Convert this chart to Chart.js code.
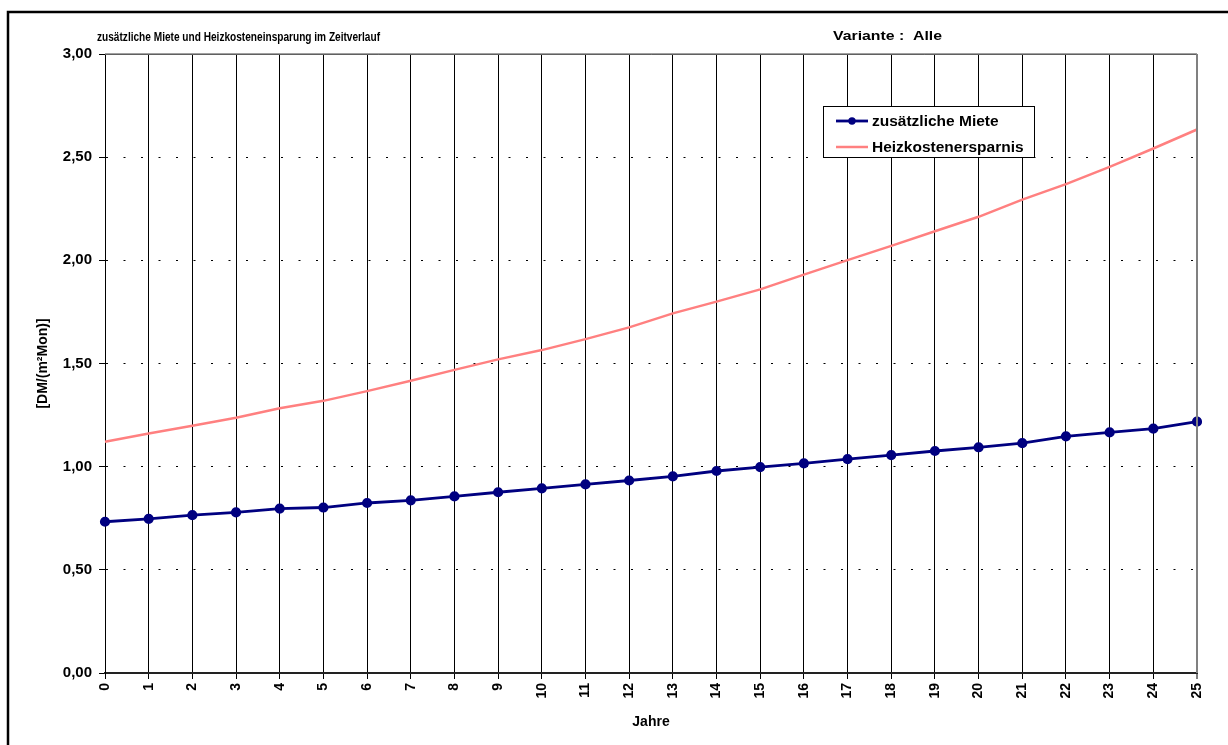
<!DOCTYPE html>
<html>
<head>
<meta charset="utf-8">
<script src="https://cdn.jsdelivr.net/npm/chart.js@4.4.1/dist/chart.umd.min.js"></script>
<style>
  html, body { margin: 0; padding: 0; background: #fff; }
  #wrap { width: 1228px; height: 745px; position: relative; }
  canvas { display: block; }
</style>
</head>
<body>
<div id="wrap"><canvas id="chart" width="1228" height="745"></canvas></div>
<script>
// Jahre 0..25
const years = ['0','1','2','3','4','5','6','7','8','9','10','11','12','13','14','15','16','17','18','19','20','21','22','23','24','25'];

// zusätzliche Miete [DM/(m²Mon)]
const zusaetzlicheMiete = [0.733, 0.747, 0.765, 0.778, 0.797, 0.802, 0.824, 0.837, 0.856, 0.876,
                           0.895, 0.914, 0.933, 0.953, 0.979, 0.998, 1.016, 1.037, 1.056, 1.076,
                           1.094, 1.114, 1.147, 1.166, 1.184, 1.218];

// Heizkostenersparnis [DM/(m²Mon)]
const heizkostenersparnis = [1.121, 1.161, 1.198, 1.237, 1.283, 1.319, 1.366, 1.416, 1.469, 1.520,
                             1.565, 1.618, 1.675, 1.743, 1.800, 1.859, 1.931, 2.001, 2.070, 2.141,
                             2.211, 2.294, 2.369, 2.453, 2.542, 2.634];

// y-axis tick labels (0,00 .. 3,00 in steps of 0,50)
const yTickLabels = ['0,00', '0,50', '1,00', '1,50', '2,00', '2,50', '3,00'];

const chartTitle = 'zusätzliche Miete und Heizkosteneinsparung im Zeitverlauf';
const variantText = 'Variante :  Alle';
const yAxisTitle = '[DM/(m²Mon)]';
const xAxisTitle = 'Jahre';

const FONT = '"Liberation Sans", Arial, sans-serif';
const NAVY = '#000080';
const SALMON = '#FF8080';

// draws a single line of text scaled horizontally to a given width
function fitText(ctx, text, x, y, width) {
  const w = ctx.measureText(text).width;
  ctx.save();
  ctx.translate(x, y);
  ctx.scale(width / w, 1);
  ctx.fillText(text, 0, 0);
  ctx.restore();
}

// Outer frame, plot frame, headings and the legend box
const decorations = {
  id: 'decorations',
  beforeDraw(chart) {
    const ctx = chart.ctx;
    ctx.save();
    ctx.fillStyle = '#fff';
    ctx.fillRect(0, 0, chart.width, chart.height);
    ctx.restore();
  },
  afterDraw(chart) {
    const ctx = chart.ctx;
    const a = chart.chartArea;
    ctx.save();

    // outer page frame
    ctx.strokeStyle = '#000';
    ctx.lineWidth = 2.5;
    ctx.beginPath();
    ctx.moveTo(8, chart.height + 5);
    ctx.lineTo(8, 12);
    ctx.lineTo(chart.width + 5, 12);
    ctx.stroke();

    // grey plot frame (top and right)
    ctx.strokeStyle = '#808080';
    ctx.lineWidth = 1.5;
    ctx.beginPath();
    ctx.moveTo(a.left, a.top);
    ctx.lineTo(a.right, a.top);
    ctx.stroke();
    ctx.lineWidth = 2;
    ctx.beginPath();
    ctx.moveTo(a.right, a.top);
    ctx.lineTo(a.right, a.bottom);
    ctx.stroke();

    // headings
    ctx.fillStyle = '#000';
    ctx.textBaseline = 'middle';
    ctx.textAlign = 'left';
    ctx.font = 'bold 12.5px ' + FONT;
    fitText(ctx, chartTitle, 97, 38, 283);
    ctx.font = 'bold 13px ' + FONT;
    fitText(ctx, variantText, 833, 36, 109);

    // legend
    const lx = 823, ly = 106, lw = 211, lh = 51;
    ctx.fillStyle = '#fff';
    ctx.fillRect(lx, ly, lw, lh);
    ctx.strokeStyle = '#000';
    ctx.lineWidth = 1;
    ctx.strokeRect(lx + 0.5, ly + 0.5, lw, lh);
    ctx.font = 'bold 15.5px ' + FONT;
    chart.data.datasets.forEach((ds, i) => {
      const y = ly + 15 + i * 26;
      ctx.strokeStyle = ds.borderColor;
      ctx.lineWidth = ds.borderWidth;
      ctx.beginPath();
      ctx.moveTo(836, y);
      ctx.lineTo(868, y);
      ctx.stroke();
      if (ds.pointRadius > 0) {
        ctx.fillStyle = ds.pointBackgroundColor;
        ctx.beginPath();
        ctx.arc(852, y, ds.pointRadius, 0, Math.PI * 2);
        ctx.fill();
      }
      ctx.fillStyle = '#000';
      ctx.fillText(ds.label, 872, y + 1);
    });
    ctx.restore();
  }
};

new Chart(document.getElementById('chart'), {
  type: 'line',
  data: {
    labels: years,
    datasets: [
      {
        label: 'zusätzliche Miete',
        data: zusaetzlicheMiete,
        borderColor: NAVY,
        backgroundColor: NAVY,
        pointBackgroundColor: NAVY,
        pointBorderColor: NAVY,
        pointRadius: 3.7,
        pointHoverRadius: 3.7,
        borderWidth: 2.8,
        tension: 0,
        fill: false
      },
      {
        label: 'Heizkostenersparnis',
        data: heizkostenersparnis,
        borderColor: SALMON,
        backgroundColor: SALMON,
        pointRadius: 0,
        borderWidth: 2.5,
        tension: 0,
        fill: false
      }
    ]
  },
  options: {
    responsive: false,
    animation: false,
    devicePixelRatio: 1,
    layout: { padding: { left: 0, top: 54, right: 31, bottom: 0 } },
    plugins: {
      legend: { display: false },
      title: { display: false },
      tooltip: { enabled: false }
    },
    scales: {
      x: {
        type: 'category',
        offset: false,
        afterFit(scale) { scale.height = 72; },
        grid: {
          color: (c) => (c.index === years.length - 1 ? '#808080' : '#000'),
          lineWidth: (c) => (c.index === years.length - 1 ? 2 : 1),
          tickLength: 6,
          tickColor: '#000',
          tickWidth: 1
        },
        border: { display: true, color: '#222', width: 2 },
        ticks: {
          autoSkip: false,
          minRotation: 90,
          maxRotation: 90,
          padding: 4,
          color: '#000',
          font: { family: FONT, size: 14, weight: 'bold' }
        },
        title: {
          display: true,
          text: xAxisTitle,
          color: '#000',
          font: { family: FONT, size: 14, weight: 'bold' },
          padding: { top: 0, bottom: 14 }
        }
      },
      y: {
        min: 0,
        max: 3,
        afterFit(scale) { scale.width = 105; },
        ticks: {
          stepSize: 0.5,
          padding: 7,
          color: '#000',
          font: { family: FONT, size: 15, weight: 'bold' },
          callback: (value) => yTickLabels[Math.round(value / 0.5)]
        },
        grid: {
          color: '#000',
          lineWidth: 1,
          tickLength: 6,
          tickColor: '#000',
          tickWidth: 1
        },
        border: {
          display: true,
          color: '#000',
          width: 1,
          dash: (c) => (c.tick && (c.tick.value === 0 || c.tick.value === 3) ? [] : [2, 15.5]),
          dashOffset: 0
        },
        title: {
          display: true,
          text: yAxisTitle,
          color: '#000',
          font: { family: FONT, size: 14, weight: 'bold' },
          padding: { top: 35, bottom: 0 }
        }
      }
    }
  },
  plugins: [decorations]
});
</script>
</body>
</html>
